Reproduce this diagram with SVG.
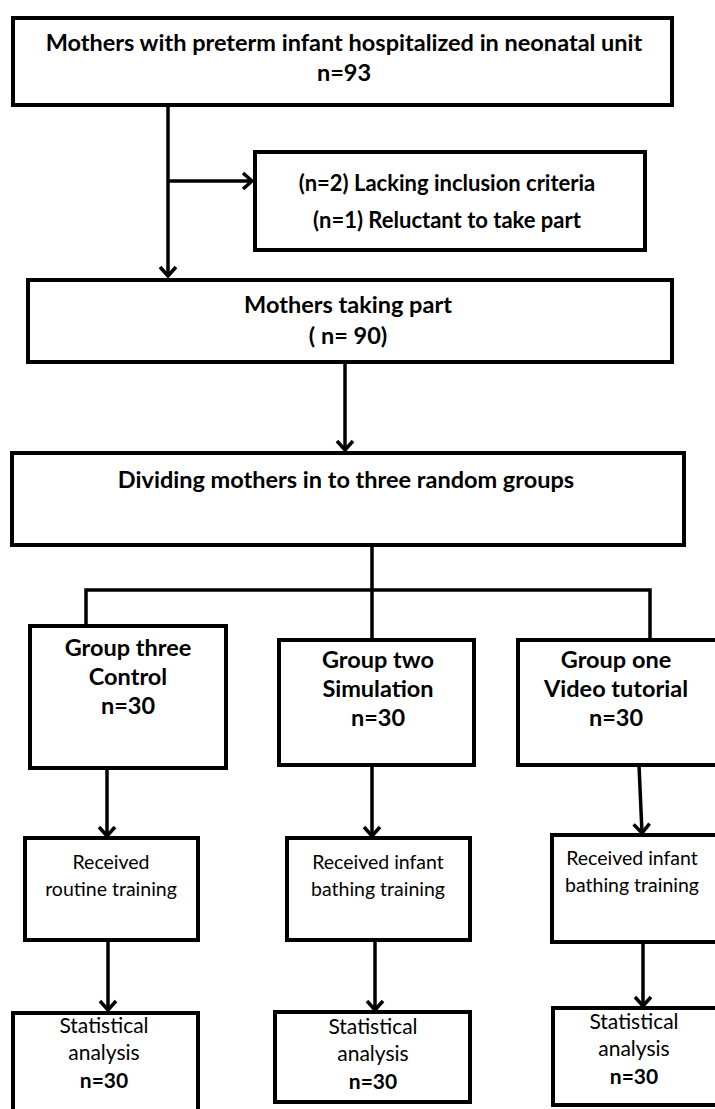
<svg xmlns="http://www.w3.org/2000/svg" width="715" height="1109" viewBox="0 0 715 1109">
<style>
.box{fill:#fff;stroke:#000;stroke-width:4}
.ln{fill:none;stroke:#000;stroke-width:3.5}
text{font-family:"Lato","Liberation Sans",sans-serif;fill:#000;text-anchor:middle}
.b{font-weight:bold}
.t1{font-size:23.5px}
.t1x{font-size:22px}
.t2{font-size:23.5px}
.t3{font-size:19.5px}
.t4{font-size:21px}
</style>
<defs>
<marker id="ah" viewBox="-12 -10 14 20" markerWidth="14" markerHeight="20" refX="0" refY="0" orient="auto" markerUnits="userSpaceOnUse">
<path d="M-9,-8 L0,0 L-9,8" fill="none" stroke="#000" stroke-width="3.5"/>
</marker>
</defs>
<g id="connectors">
<path class="ln" d="M168,105 V276" marker-end="url(#ah)"/>
<path class="ln" d="M168,181 H252" marker-end="url(#ah)"/>
<path class="ln" d="M345,362 V450" marker-end="url(#ah)"/>
<path class="ln" d="M372,545 V640 M86,625 V590 H650 V640"/>
<path class="ln" d="M107,768 V836" marker-end="url(#ah)"/>
<path class="ln" d="M372,765 V836" marker-end="url(#ah)"/>
<path class="ln" d="M639,765 L642,833" marker-end="url(#ah)"/>
<path class="ln" d="M108,940 V1010" marker-end="url(#ah)"/>
<path class="ln" d="M375,940 V1010" marker-end="url(#ah)"/>
<path class="ln" d="M643,942 V1006" marker-end="url(#ah)"/>
</g>
<g id="n1"><rect class="box" x="13" y="18" width="659" height="87"/>
<text class="b t1" x="344" y="51">Mothers with preterm infant hospitalized in neonatal unit</text>
<text class="b t1" x="344" y="81">n=93</text></g>
<g id="n2"><rect class="box" x="255" y="152" width="390" height="98"/>
<text class="b t1x" x="447" y="191">(n=2) Lacking inclusion criteria</text>
<text class="b t1x" x="447" y="228">(n=1) Reluctant to take part</text></g>
<g id="n3"><rect class="box" x="28" y="280" width="644" height="82"/>
<text class="b t1" x="348" y="313">Mothers taking part</text>
<text class="b t1" x="348" y="344">( n= 90)</text></g>
<g id="n4"><rect class="box" x="12" y="453" width="672" height="92"/>
<text class="b t1" x="346" y="488">Dividing mothers in to three random groups</text></g>
<g id="n5"><rect class="box" x="30" y="626" width="196" height="142"/>
<text class="b t2" x="128" y="656">Group three</text>
<text class="b t2" x="128" y="685">Control</text>
<text class="b t2" x="128" y="714">n=30</text></g>
<g id="n6"><rect class="box" x="279" y="640" width="195" height="125"/>
<text class="b t2" x="378" y="668">Group two</text>
<text class="b t2" x="378" y="697">Simulation</text>
<text class="b t2" x="378" y="726">n=30</text></g>
<g id="n7"><rect class="box" x="518" y="640" width="200" height="125"/>
<text class="b t2" x="616" y="668">Group one</text>
<text class="b t2" x="616" y="697">Video tutorial</text>
<text class="b t2" x="616" y="726">n=30</text></g>
<g id="n8"><rect class="box" x="25" y="838" width="173" height="102"/>
<text class="t3" x="111" y="869">Received</text>
<text class="t3" x="111" y="896">routine training</text></g>
<g id="n9"><rect class="box" x="287" y="838" width="183" height="102"/>
<text class="t3" x="378" y="869">Received infant</text>
<text class="t3" x="378" y="896">bathing training</text></g>
<g id="n10"><rect class="box" x="552" y="835" width="168" height="107"/>
<text class="t3" x="632" y="865">Received infant</text>
<text class="t3" x="632" y="892">bathing training</text></g>
<g id="n11"><rect class="box" x="13" y="1013" width="185" height="100"/>
<text class="t4" x="104" y="1033">Statistical</text>
<text class="t4" x="104" y="1060">analysis</text>
<text class="b t4" x="104" y="1088">n=30</text></g>
<g id="n12"><rect class="box" x="275" y="1012" width="195" height="90"/>
<text class="t4" x="373" y="1034">Statistical</text>
<text class="t4" x="373" y="1061">analysis</text>
<text class="b t4" x="373" y="1089">n=30</text></g>
<g id="n13"><rect class="box" x="553" y="1008" width="167" height="97"/>
<text class="t4" x="634" y="1029">Statistical</text>
<text class="t4" x="634" y="1056">analysis</text>
<text class="b t4" x="634" y="1084">n=30</text></g>
</svg>
